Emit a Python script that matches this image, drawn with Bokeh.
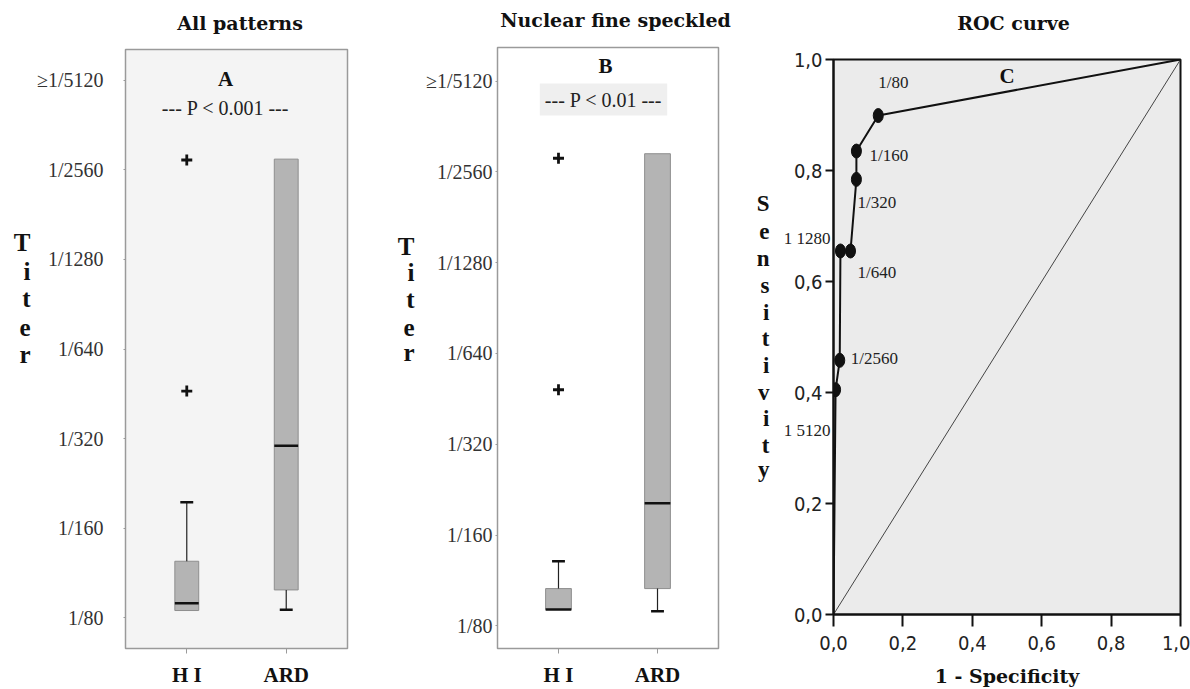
from bokeh.plotting import figure
from bokeh.layouts import row
from bokeh.models import Range1d, FixedTicker, Label, LinearAxis, AllLabels
from bokeh.embed import file_html
from bokeh.resources import INLINE

# ---------------- data ----------------
groups = ["H I", "ARD"]
titer_steps = [0, 1, 2, 3, 4, 5, 6]          # log2 steps above 1/80
titer_labels = ["1/80", "1/160", "1/320", "1/640", "1/1280", "1/2560", "\u22651/5120"]

# Panel A: all patterns (values in titer steps)
a_q1 = [0.08, 0.31]
a_median = [0.16, 1.92]
a_q3 = [0.63, 5.12]
a_low = [0.08, 0.09]
a_high = [1.29, 5.12]
a_out_group = ["H I", "H I"]
a_out_value = [5.11, 2.53]

# Panel B: nuclear fine speckled
b_q1 = [0.18, 0.41]
b_median = [0.18, 1.35]
b_q3 = [0.41, 5.20]
b_low = [0.18, 0.16]
b_high = [0.71, 5.20]
b_out_group = ["H I", "H I"]
b_out_value = [5.15, 2.60]

# Panel C: ROC curve
roc_ticks = [0.0, 0.2, 0.4, 0.6, 0.8, 1.0]
roc_tick_labels = ["0,0", "0,2", "0,4", "0,6", "0,8", "1,0"]
cut_labels = ["1/80", "1/160", "1/320", "1/640", "1 1280", "1/2560", "1 5120"]
cut_fpr = [0.129, 0.066, 0.066, 0.049, 0.020, 0.018, 0.006]
cut_tpr = [0.899, 0.835, 0.784, 0.655, 0.655, 0.458, 0.405]
roc_start = [0.0, 0.0]
roc_end = [1.0, 1.0]
chance_x = [0.0, 1.0]
chance_y = [0.0, 1.0]

SERIF = "Liberation Serif"
TITLE_FONT = "DejaVu Serif"
NARROW = "Liberation Sans Narrow, DejaVu Sans Condensed, sans-serif"


def lbl(p, text, x, y, size, font=SERIF, bold=False, align="center",
        baseline="middle", color="#111111", units="screen", **kw):
    p.add_layout(Label(x=x, y=y, x_units=units, y_units=units, text=text,
                       text_font=font, text_font_size=f"{size}px",
                       text_font_style="bold" if bold else "normal",
                       text_align=align, text_baseline=baseline,
                       text_color=color, **kw))


def text_axis(p, side, ticks, texts, size, standoff, bold=True, font=SERIF,
              color="#111111"):
    """Extra axis used only to place text (titles, stacked letters) outside the frame."""
    ax = LinearAxis(ticker=FixedTicker(ticks=ticks),
                    major_label_overrides={t: s for t, s in zip(ticks, texts)},
                    major_label_policy=AllLabels())
    ax.axis_line_color = None
    ax.major_tick_line_color = None
    ax.minor_tick_line_color = None
    ax.major_tick_out = 0
    ax.major_tick_in = 0
    ax.major_label_text_font = font
    ax.major_label_text_font_size = f"{size}px"
    ax.major_label_text_font_style = "bold" if bold else "normal"
    ax.major_label_text_color = color
    ax.major_label_standoff = standoff
    p.add_layout(ax, side)
    return ax


def box_panel(width, borders, yr, q1, med, q3, low, high, out_g, out_v,
              box_w, frame_bg, title, title_pos, letter, letter_xy,
              ptext, ptext_xy, ptext_bg, tick_so, titer_ticks, titer_so):
    bl, br, bt, bb = borders
    p = figure(width=width, height=689, x_range=Range1d(0.384, 2.616),
               y_range=Range1d(*yr), output_backend="svg",
               toolbar_location=None)
    p.frame_align = False
    p.min_border_left, p.min_border_right = bl, br
    p.min_border_top, p.min_border_bottom = bt, bb
    p.background_fill_color = frame_bg
    p.border_fill_color = "white"
    p.outline_line_color = "#9a9a9a"
    p.outline_line_width = 1.5
    p.grid.visible = False

    xs = [i + 1 for i in range(len(groups))]
    half = box_w / 2
    cap = 0.065
    p.vbar(x=xs, bottom=q1, top=q3, width=box_w, fill_color="#b4b4b4",
           line_color="#8e8e8e", line_width=1)
    up = [(x, a, b) for x, a, b in zip(xs, q3, high) if b > a]
    dn = [(x, a, b) for x, a, b in zip(xs, q1, low) if b < a]
    for seg in (up, dn):
        if seg:
            sx = [s[0] for s in seg]
            s0 = [s[1] for s in seg]
            s1 = [s[2] for s in seg]
            p.segment(x0=sx, y0=s0, x1=sx, y1=s1, line_color="#222222",
                      line_width=1.2)
            p.segment(x0=[x - cap for x in sx], y0=s1,
                      x1=[x + cap for x in sx], y1=s1,
                      line_color="#111111", line_width=2.5)
    p.segment(x0=[x - half for x in xs], y0=med, x1=[x + half for x in xs],
              y1=med, line_color="#111111", line_width=2.5)
    ox = [groups.index(g) + 1 for g in out_g]
    p.scatter(ox, out_v, marker="cross", size=11, line_width=2.8,
              color="#111111")

    xa = p.below[0]
    xa.ticker = FixedTicker(ticks=xs)
    xa.major_label_overrides = {x: g for x, g in zip(xs, groups)}
    xa.major_label_text_font = SERIF
    xa.major_label_text_font_style = "bold"
    xa.major_label_text_font_size = "21px"
    xa.major_label_text_color = "#111111"
    xa.major_label_standoff = 9
    xa.major_tick_out = 5
    xa.major_tick_in = 0
    xa.major_tick_line_color = "#9a9a9a"
    xa.minor_tick_line_color = None
    xa.axis_line_color = None

    ya = p.left[0]
    ya.ticker = FixedTicker(ticks=titer_steps)
    ya.major_label_overrides = {s: t for s, t in zip(titer_steps, titer_labels)}
    ya.major_label_text_font = SERIF
    ya.major_label_text_font_size = "20px"
    ya.major_label_text_color = "#333333"
    ya.major_label_standoff = tick_so
    ya.major_tick_out = 2
    ya.major_tick_in = 0
    ya.major_tick_line_color = "#9a9a9a"
    ya.minor_tick_line_color = None
    ya.axis_line_color = None

    lbl(p, letter, letter_xy[0], letter_xy[1], 21, bold=True)
    kw = {}
    if ptext_bg:
        kw = dict(background_fill_color=ptext_bg, padding=5)
    lbl(p, ptext, ptext_xy[0], ptext_xy[1], 20, color="#222222", **kw)
    text_axis(p, "left", titer_ticks, list("Titer"), 25, titer_so)
    text_axis(p, "above", [title_pos[1]], [title], 19, title_pos[0],
              font=TITLE_FONT)
    return p


pa = box_panel(370, (125, 23, 49, 38), (-0.344, 6.344), a_q1, a_median,
               a_q3, a_low, a_high, a_out_group, a_out_value, 0.24,
               "#f4f4f4", "All patterns", (16, 1.536), "A", (100, 570),
               "--- P < 0.001 ---", (100, 541), None, 20,
               [4.19, 3.87, 3.56, 3.24, 2.94], 3)

pb = box_panel(380, (127, 32, 47, 39), (-0.25, 6.37), b_q1, b_median,
               b_q3, b_low, b_high, b_out_group, b_out_value, 0.26,
               "white", "Nuclear fine speckled", (17, 1.576), "B", (108, 583),
               "--- P < 0.01 ---", (106, 549), "#efefef", 3,
               [4.18, 3.89, 3.59, 3.29, 3.01], 8)

# ---------------- ROC panel ----------------
pc = figure(width=440, height=689, x_range=Range1d(0, 1), y_range=Range1d(0, 1),
            output_backend="svg", toolbar_location=None)
pc.frame_align = False
pc.min_border_left, pc.min_border_right = 83, 10
pc.min_border_top, pc.min_border_bottom = 59, 75
pc.background_fill_color = "#ebebeb"
pc.border_fill_color = "white"
pc.outline_line_color = "#111111"
pc.outline_line_width = 2
pc.grid.visible = False

pc.line(chance_x, chance_y, line_color="#444444", line_width=1)
roc_x = [roc_start[0]] + cut_fpr[::-1] + [roc_end[0]]
roc_y = [roc_start[1]] + cut_tpr[::-1] + [roc_end[1]]
pc.line(roc_x, roc_y, line_color="#111111", line_width=2)
pc.ellipse(x=cut_fpr, y=cut_tpr, width=10, height=14, width_units="screen",
           height_units="screen", fill_color="#111111", line_color="#111111")

# labels inside the frame (offsets in pixels from their point)
inside = {0: (0, 33, "left"), 1: (13, -4, "left"), 2: (1, -23, "left"),
          3: (7, -22, "left"), 5: (11, 2, "left")}
for i, (dx, dy, al) in inside.items():
    lbl(pc, cut_labels[i], cut_fpr[i], cut_tpr[i], 17, units="data", align=al,
        x_offset=dx, y_offset=dy, color="#222222")
lbl(pc, "C", 0.5, 0.97, 21, units="data", bold=True)

cxa = pc.below[0]
cya = pc.left[0]
for ax in (cxa, cya):
    ax.ticker = FixedTicker(ticks=roc_ticks)
    ax.major_label_overrides = {v: s for v, s in zip(roc_ticks, roc_tick_labels)}
    ax.major_label_text_font = NARROW
    ax.major_label_text_font_size = "20px"
    ax.major_label_text_color = "#222222"
    ax.major_tick_in = 0
    ax.major_tick_line_width = 2
    ax.major_tick_line_color = "#111111"
    ax.minor_tick_line_color = None
    ax.axis_line_width = 2
    ax.axis_line_color = "#111111"
cxa.major_tick_out = 12
cxa.major_label_standoff = 9
cya.major_tick_out = 8
cya.major_label_standoff = 3

cxa.axis_label = "1 - Specificity"
cxa.axis_label_text_font = TITLE_FONT
cxa.axis_label_text_font_style = "bold"
cxa.axis_label_text_font_size = "19px"
cxa.axis_label_text_color = "#111111"
cxa.axis_label_standoff = 12

# labels of the two cut-offs that sit left of the frame (px offsets -> data)
outside_idx = [4, 6]
outside_dy = [12, -41]
frame_h = 555
text_axis(pc, "left", [cut_tpr[i] + dy / frame_h for i, dy in zip(outside_idx, outside_dy)],
          [cut_labels[i] for i in outside_idx], 17, -40, bold=False,
          color="#222222")
text_axis(pc, "left", [0.741, 0.690, 0.641, 0.593, 0.544, 0.497, 0.449, 0.400,
                       0.353, 0.305, 0.261], list("Sensitivity"), 23, 11)
text_axis(pc, "above", [0.519], ["ROC curve"], 19, 26, font=TITLE_FONT)

layout = row(pa, pb, pc)
open("out.html", "w").write(file_html(layout, INLINE))
